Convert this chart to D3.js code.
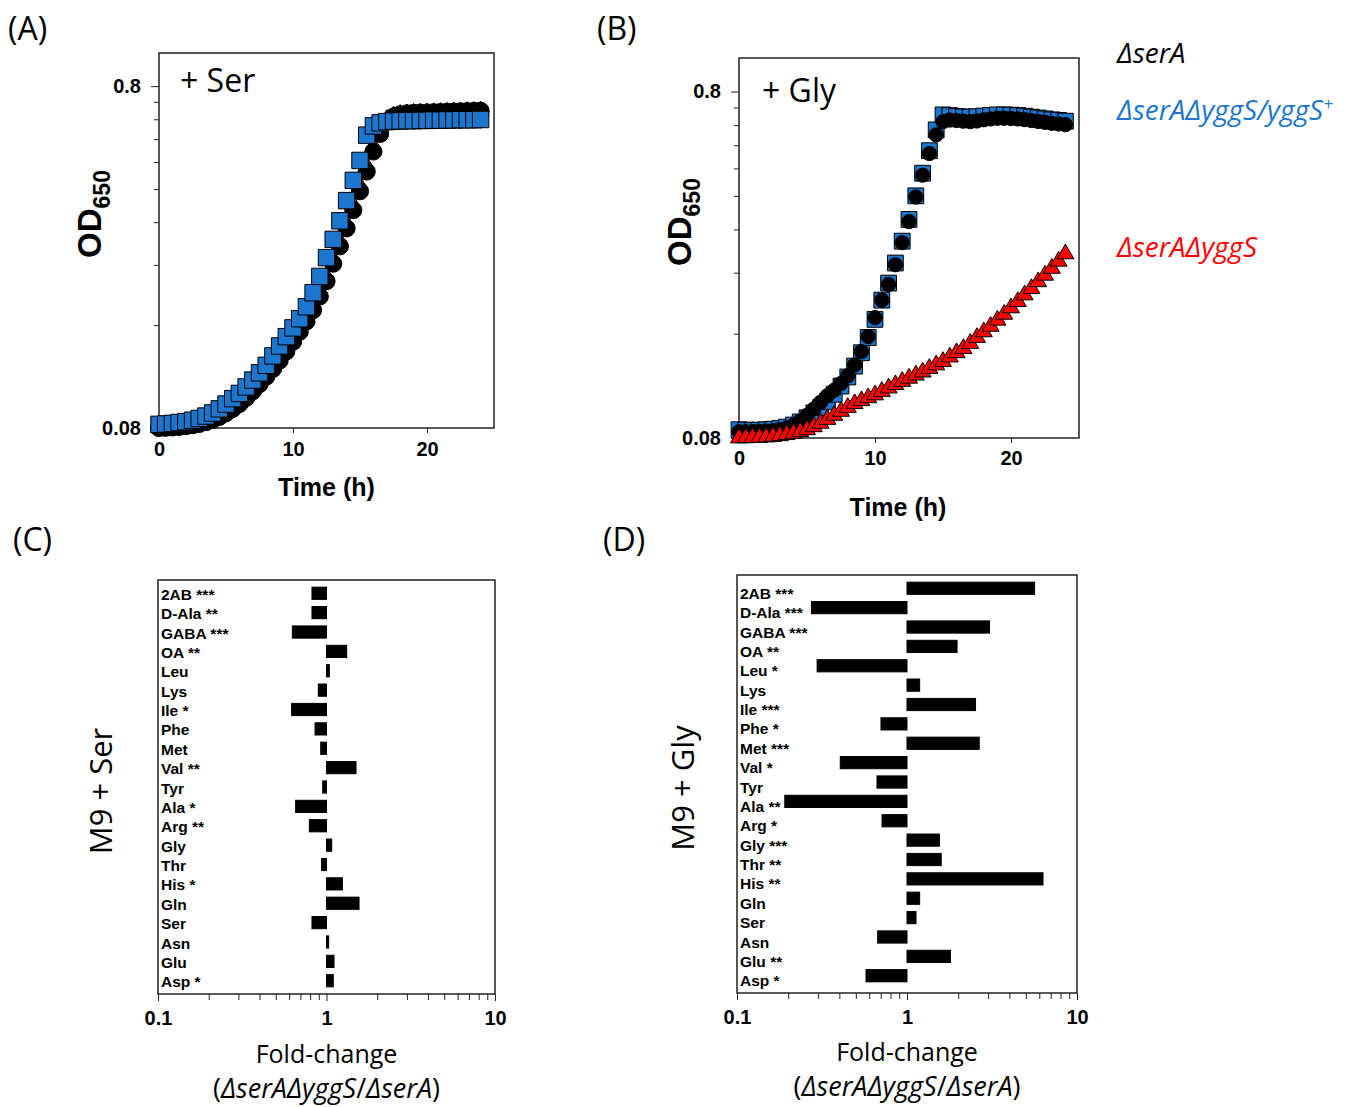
<!DOCTYPE html>
<html>
<head>
<meta charset="utf-8">
<script src="https://cdn.jsdelivr.net/npm/d3@7"></script>
<style>
body { margin: 0; background: #fff; }
.tick text { font-family: "Liberation Sans", Arial, sans-serif; font-weight: bold; fill: #000; }
.tick line { stroke: #222; }
</style>
</head>
<body>
<script>
// time points (h)
var timeH = [0, 0.5, 1, 1.5, 2, 2.5, 3, 3.5, 4, 4.5,
             5, 5.5, 6, 6.5, 7, 7.5, 8, 8.5, 9, 9.5,
             10, 10.5, 11, 11.5, 12, 12.5, 13, 13.5, 14, 14.5,
             15, 15.5, 16, 16.5, 17, 17.5, 18, 18.5, 19, 19.5,
             20, 20.5, 21, 21.5, 22, 22.5, 23, 23.5, 24];

// (A) + Ser
var serSerA = [.080, .0801, .0803, .0806, .081, .0815, .0822, .0832, .0845, .0862,
               .0884, .091, .094, .098, .1025, .1075, .113, .119, .126, .134,
               .143, .153, .164, .177, .194, .215, .242, .272, .307, .347,
               .394, .45, .515, .58, .63, .652, .662, .666, .668, .669,
               .67, .671, .672, .673, .674, .675, .676, .677, .678];
var serComp = [.082, .0822, .0825, .083, .0835, .0843, .0853, .0867, .0885, .091,
               .094, .0975, .101, .1055, .1105, .116, .122, .13, .139, .148,
               .157, .167, .181, .199, .222, .252, .285, .323, .37, .424,
               .485, .575, .612, .625, .63, .632, .633, .634, .634, .635,
               .635, .636, .636, .637, .637, .638, .638, .638, .639];
var serYggS = [.080, .0801, .0803, .0806, .0811, .0817, .0825, .0836, .085, .0868,
               .0891, .0918, .095, .0992, .104, .109, .115, .121, .128, .137,
               .146, .156, .168, .182, .2, .222, .25, .281, .318, .36,
               .41, .468, .535, .6, .64, .655, .662, .665, .667, .668,
               .669, .67, .671, .672, .673, .674, .675, .676, .677];

// (B) + Gly
var glySerA = [.0834, .0834, .0835, .0836, .0838, .084, .0845, .0855, .087, .0895,
               .093, .097, .1015, .106, .11, .115, .121, .13, .142, .157,
               .178, .2, .222, .253, .293, .337, .397, .459, .53, .6,
               .655, .662, .66, .657, .655, .658, .663, .667, .67, .67,
               .669, .667, .664, .66, .656, .652, .648, .645, .642];
var glyComp = [.0845, .0843, .0842, .0843, .0845, .0848, .0852, .086, .0872, .089,
               .0915, .0945, .098, .102, .107, .113, .12, .129, .141, .156,
               .176, .2, .224, .256, .296, .342, .4, .465, .54, .62,
               .685, .682, .678, .676, .675, .677, .68, .683, .685, .685,
               .684, .682, .679, .675, .671, .667, .663, .66, .657];
var glyYggS = [.080, .0801, .0802, .0803, .0805, .0808, .0812, .0818, .0825, .0834,
               .0845, .0862, .0882, .0905, .093, .0955, .098, .1005, .1025, .1045,
               .1065, .109, .1115, .114, .1165, .119, .1215, .124, .127, .13,
               .133, .137, .141, .145, .15, .156, .162, .168, .175, .182,
               .19, .198, .207, .216, .226, .236, .247, .259, .272];

var odTicks = [0.08, 0.8];
var odMinor = [0.16, 0.24, 0.32, 0.4, 0.48, 0.56, 0.64, 0.72];
var timeTicks = [0, 10, 20];

// (C)/(D) fold-change
var aminoAcids = ["2AB", "D-Ala", "GABA", "OA", "Leu", "Lys", "Ile", "Phe", "Met", "Val", "Tyr",
                  "Ala", "Arg", "Gly", "Thr", "His", "Gln", "Ser", "Asn", "Glu", "Asp"];
var sigSer = ["***", "**", "***", "**", "", "", "*", "", "", "**", "",
              "*", "**", "", "", "*", "", "", "", "", "*"];
var sigGly = ["***", "***", "***", "**", "*", "", "***", "*", "***", "*", "",
              "**", "*", "***", "**", "**", "", "", "", "**", "*"];
var foldSer = [0.82, 0.82, 0.627, 1.318, 1.04, 0.894, 0.621, 0.855, 0.924, 1.497, 0.949,
               0.656, 0.791, 1.074, 0.936, 1.242, 1.56, 0.82, 1.03, 1.108, 1.097];
var foldGly = [5.63, 0.274, 3.06, 1.97, 0.296, 1.187, 2.53, 0.703, 2.66, 0.405, 0.666,
               0.191, 0.713, 1.55, 1.59, 6.31, 1.187, 1.13, 0.672, 1.80, 0.574];
var foldTicks = [0.1, 1, 10];
var foldMinor = [0.2, 0.3, 0.4, 0.5, 0.6, 0.7, 0.8, 0.9, 2, 3, 4, 5, 6, 7, 8, 9];

var blue = "#1c76cd";
var red = "#ff0000";
var textFont = "'Open Sans', sans-serif";
var boldFont = "'Liberation Sans', Arial, sans-serif";

var svg = d3.select("body").append("svg")
    .attr("width", 1356)
    .attr("height", 1107);

function panelLabel(txt, x, y) {
    svg.append("text").attr("x", x).attr("y", y)
        .style("font-family", textFont).style("font-size", "32px")
        .text(txt);
}

// 増殖曲線パネル
function drawGrowth(opt) {
    var g = svg.append("g")
        .attr("transform", "translate(" + opt.left + "," + opt.top + ")");

    var x = d3.scaleLinear().domain([0, 25]).range([0, opt.width]);
    var y = d3.scaleLog().domain([0.08, 1.0]).range([opt.height, 0]);

    var yMinor = g.append("g").call(d3.axisLeft(y).tickValues(odMinor).tickSize(5).tickFormat(""));
    var yMajor = g.append("g").call(d3.axisLeft(y).tickValues(odTicks).tickSize(8).tickPadding(10).tickFormat(d3.format("")));
    var xAxis = g.append("g")
        .attr("transform", "translate(0," + opt.height + ")")
        .call(d3.axisBottom(x).tickValues(timeTicks).tickSize(5).tickPadding(opt.xPad));
    [yMinor, yMajor, xAxis].forEach(function(a) { a.select(".domain").remove(); });
    yMajor.selectAll("text").style("font-size", "20px");
    xAxis.selectAll("text").style("font-size", "20px");

    g.append("rect")
        .attr("width", opt.width).attr("height", opt.height)
        .attr("fill", "none").attr("stroke", "#222").attr("stroke-width", 1.5);

    opt.series.forEach(function(s) {
        var pts = timeH.map(function(t, i) { return { t: t, v: s.values[i] }; });
        g.append("g").selectAll("path")
            .data(pts)
            .join("path")
            .attr("d", d3.symbol(s.type, s.size))
            .attr("transform", function(d) { return "translate(" + x(d.t) + "," + y(d.v) + ")"; })
            .attr("fill", s.color)
            .attr("stroke", "#000")
            .attr("stroke-width", 1);
    });

    g.append("text")
        .attr("x", opt.tagX).attr("y", opt.tagY)
        .style("font-family", textFont).style("font-size", "32px")
        .text(opt.tag);

    var od = g.append("text")
        .attr("transform", "translate(" + opt.odX + "," + opt.odY + ") rotate(-90)")
        .attr("text-anchor", "middle")
        .style("font-family", boldFont).style("font-weight", "bold").style("font-size", "33px");
    od.append("tspan").text("OD");
    od.append("tspan").attr("dy", 9).style("font-size", "23px").text("650");

    g.append("text")
        .attr("x", opt.width / 2 + opt.tlDx).attr("y", opt.tlY)
        .attr("text-anchor", "middle")
        .style("font-family", boldFont).style("font-weight", "bold").style("font-size", "25px")
        .text("Time (h)");
}

// 倍率変化パネル
function drawFold(opt) {
    var g = svg.append("g")
        .attr("transform", "translate(" + opt.left + "," + opt.top + ")");

    var x = d3.scaleLog().domain([0.1, 10]).range([0, opt.width]);
    var y = d3.scaleBand().domain(aminoAcids).range([0, opt.bandH]).padding(0.37);

    var xMinor = g.append("g").attr("transform", "translate(0," + opt.height + ")")
        .call(d3.axisBottom(x).tickValues(foldMinor).tickSize(6).tickFormat(""));
    var xMajor = g.append("g").attr("transform", "translate(0," + opt.height + ")")
        .call(d3.axisBottom(x).tickValues(foldTicks).tickSize(7).tickPadding(10).tickFormat(d3.format("")));
    [xMinor, xMajor].forEach(function(a) { a.select(".domain").remove(); });
    xMajor.selectAll("text").style("font-size", "20px");

    g.append("rect")
        .attr("width", opt.width).attr("height", opt.height)
        .attr("fill", "none").attr("stroke", "#222").attr("stroke-width", 1.5);

    var rows = aminoAcids.map(function(a, i) { return { name: a, sig: opt.sig[i], v: opt.values[i] }; });

    g.append("g").selectAll("rect")
        .data(rows)
        .join("rect")
        .attr("x", function(d) { return x(Math.min(d.v, 1)); })
        .attr("y", function(d) { return y(d.name); })
        .attr("width", function(d) { return Math.max(1, Math.abs(x(d.v) - x(1))); })
        .attr("height", y.bandwidth())
        .attr("fill", "#000")
        .attr("stroke", "#000")
        .attr("stroke-width", 1);

    g.append("g").selectAll("text")
        .data(rows)
        .join("text")
        .attr("x", 3)
        .attr("y", function(d) { return y(d.name) + y.bandwidth() / 2 + opt.labelShift; })
        .attr("dy", "0.36em")
        .style("font-family", boldFont).style("font-weight", "bold").style("font-size", "15.5px")
        .text(function(d) { return d.sig ? d.name + " " + d.sig : d.name; });

    g.append("text")
        .attr("transform", "translate(" + opt.sideX + "," + opt.sideY + ") rotate(-90)")
        .attr("text-anchor", "middle")
        .style("font-family", textFont).style("font-size", "31px")
        .text(opt.side);

    g.append("text")
        .attr("x", x(1)).attr("y", opt.fcY)
        .attr("text-anchor", "middle")
        .style("font-family", textFont).style("font-size", "25px")
        .text("Fold-change");

    var r = g.append("text")
        .attr("x", x(1)).attr("y", opt.fcY + 35)
        .attr("text-anchor", "middle")
        .style("font-family", textFont).style("font-size", "27px");
    r.append("tspan").text("(");
    r.append("tspan").style("font-style", "italic").text("\u0394serA\u0394yggS");
    r.append("tspan").text("/");
    r.append("tspan").style("font-style", "italic").text("\u0394serA");
    r.append("tspan").text(")");
}

panelLabel("(A)", 8, 40);
panelLabel("(B)", 597, 40);
panelLabel("(C)", 13, 551);
panelLabel("(D)", 603, 551);

drawGrowth({
    left: 159, top: 53, width: 335, height: 375, xPad: 9,
    tag: "+ Ser", tagX: 21, tagY: 39,
    odX: -58, odY: 161, tlY: 443, tlDx: 0,
    series: [
        { values: serYggS, type: d3.symbolTriangle, size: 120, color: red },
        { values: serSerA, type: d3.symbolCircle, size: 230, color: "#000" },
        { values: serComp, type: d3.symbolSquare, size: 270, color: blue }
    ]
});

drawGrowth({
    left: 739, top: 58, width: 340, height: 380, xPad: 8,
    tag: "+ Gly", tagX: 23, tagY: 44,
    odX: -48, odY: 164, tlY: 458, tlDx: -11,
    series: [
        { values: glyComp, type: d3.symbolSquare, size: 250, color: blue },
        { values: glySerA, type: d3.symbolCircle, size: 160, color: "#000" },
        { values: glyYggS, type: d3.symbolTriangle, size: 125, color: red }
    ]
});

// 凡例
var legend = [
    { text: "\u0394serA", color: "#000", y: 63 },
    { text: "\u0394serA\u0394yggS/yggS", sup: "+", color: blue, y: 120 },
    { text: "\u0394serA\u0394yggS", color: red, y: 257 }
];
legend.forEach(function(d) {
    var t = svg.append("text")
        .attr("x", 1117).attr("y", d.y)
        .style("fill", d.color)
        .style("font-family", textFont).style("font-style", "italic").style("font-size", "28px")
        .text(d.text);
    if (d.sup) {
        t.append("tspan").attr("dy", -10).style("font-size", "17px").text(d.sup);
    }
});

drawFold({
    left: 158, top: 580, width: 337, height: 414, bandH: 414, labelShift: 1,
    values: foldSer, sig: sigSer, side: "M9 + Ser", sideX: -46, sideY: 211, fcY: 483
});

drawFold({
    left: 737, top: 575, width: 340, height: 418, bandH: 414, labelShift: 5,
    values: foldGly, sig: sigGly, side: "M9 + Gly", sideX: -43, sideY: 213, fcY: 486
});
</script>
</body>
</html>
